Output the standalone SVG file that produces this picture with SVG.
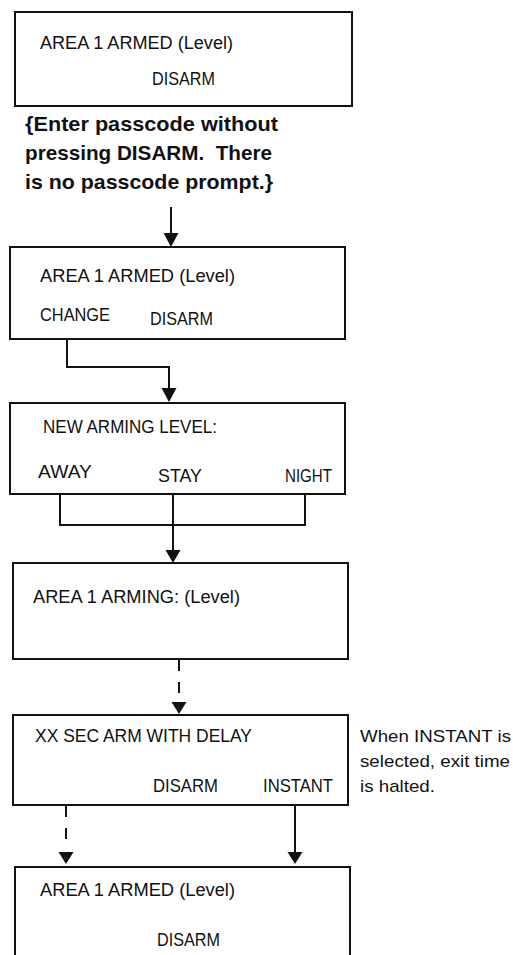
<svg xmlns="http://www.w3.org/2000/svg" width="513" height="955" viewBox="0 0 513 955">
<defs>
<style>
.box{fill:#fff;stroke:#111;stroke-width:2}
.t{font-family:"Liberation Sans",Arial,sans-serif;font-size:18px;fill:#111}
.n{font-family:"Liberation Sans",Arial,sans-serif;font-size:17px;fill:#111}
.b{font-family:"Liberation Sans",Arial,sans-serif;font-size:20.5px;font-weight:bold;fill:#111}
.c{fill:none;stroke:#111;stroke-width:2}
.d{stroke-dasharray:11 11}
.h{fill:#111}
</style>
</defs>
<rect width="513" height="955" fill="#fff"/>
<g id="n1">
<rect class="box" x="15" y="12" width="337" height="94"/>
<text class="t" x="40" y="49" textLength="193" lengthAdjust="spacingAndGlyphs">AREA 1 ARMED (Level)</text>
<text class="t" x="152" y="85" textLength="63" lengthAdjust="spacingAndGlyphs">DISARM</text>
</g>
<g id="note1">
<text class="b" x="25" y="131" textLength="253" lengthAdjust="spacingAndGlyphs">{Enter passcode without</text>
<text class="b" x="25" y="160" textLength="247" lengthAdjust="spacingAndGlyphs" xml:space="preserve">pressing DISARM.  There</text>
<text class="b" x="25" y="189" textLength="248" lengthAdjust="spacingAndGlyphs">is no passcode prompt.}</text>
</g>
<g id="n2">
<rect class="box" x="10" y="247" width="335" height="92"/>
<text class="t" x="40" y="282" textLength="195" lengthAdjust="spacingAndGlyphs">AREA 1 ARMED (Level)</text>
<text class="t" x="40" y="321" textLength="70" lengthAdjust="spacingAndGlyphs">CHANGE</text>
<text class="t" x="150" y="325" textLength="63" lengthAdjust="spacingAndGlyphs">DISARM</text>
</g>
<g id="n3">
<rect class="box" x="10" y="403" width="335" height="91"/>
<text class="t" x="43" y="433" textLength="174" lengthAdjust="spacingAndGlyphs">NEW ARMING LEVEL:</text>
<text class="t" x="38" y="478" textLength="54" lengthAdjust="spacingAndGlyphs">AWAY</text>
<text class="t" x="158" y="482" textLength="44" lengthAdjust="spacingAndGlyphs">STAY</text>
<text class="t" x="285" y="482" textLength="47" lengthAdjust="spacingAndGlyphs">NIGHT</text>
</g>
<g id="n4">
<rect class="box" x="13" y="563" width="335" height="96"/>
<text class="t" x="33" y="603" textLength="207" lengthAdjust="spacingAndGlyphs">AREA 1 ARMING: (Level)</text>
</g>
<g id="n5">
<rect class="box" x="13" y="715" width="335" height="90"/>
<text class="t" x="35" y="742" textLength="217" lengthAdjust="spacingAndGlyphs">XX SEC ARM WITH DELAY</text>
<text class="t" x="153" y="792" textLength="65" lengthAdjust="spacingAndGlyphs">DISARM</text>
<text class="t" x="263" y="792" textLength="70" lengthAdjust="spacingAndGlyphs">INSTANT</text>
</g>
<g id="note2">
<text class="n" x="360" y="742" textLength="151" lengthAdjust="spacingAndGlyphs">When INSTANT is</text>
<text class="n" x="360" y="767" textLength="150" lengthAdjust="spacingAndGlyphs">selected, exit time</text>
<text class="n" x="360" y="792" textLength="75" lengthAdjust="spacingAndGlyphs">is halted.</text>
</g>
<g id="n6">
<rect class="box" x="15" y="867" width="335" height="100"/>
<text class="t" x="40" y="896" textLength="195" lengthAdjust="spacingAndGlyphs">AREA 1 ARMED (Level)</text>
<text class="t" x="157" y="946" textLength="63" lengthAdjust="spacingAndGlyphs">DISARM</text>
</g>
<g id="connectors">
<line class="c" x1="171" y1="207" x2="171" y2="236"/>
<polygon class="h" points="163.5,233 178.5,233 171,247"/>
<polyline class="c" points="67,339 67,367 169,367 169,390"/>
<polygon class="h" points="161.5,388 176.5,388 169,402"/>
<polyline class="c" points="60,494 60,525 305,525 305,494"/>
<line class="c" x1="173" y1="494" x2="173" y2="552"/>
<polygon class="h" points="165.5,550 180.5,550 173,563"/>
<line class="c d" x1="179" y1="660" x2="179" y2="702"/>
<polygon class="h" points="171.5,702 186.5,702 179,714"/>
<line class="c d" x1="66" y1="806" x2="66" y2="848"/>
<polygon class="h" points="58.5,852 73.5,852 66,864"/>
<line class="c" x1="295" y1="805" x2="295" y2="854"/>
<polygon class="h" points="287.5,852 302.5,852 295,864"/>
</g>
</svg>
